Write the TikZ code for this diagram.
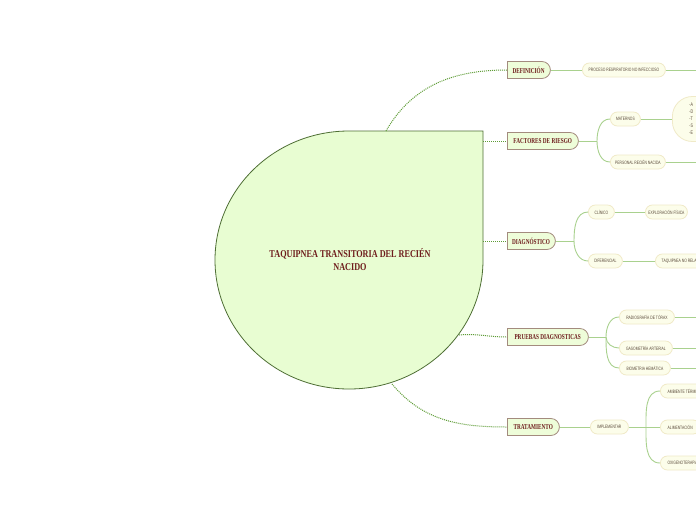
\documentclass[tikz,border=0pt]{standalone}
\usepackage{fontspec}
\newfontfamily\labfont[FakeStretch=0.7]{Liberation Serif}
\newfontfamily\ctrfont[FakeStretch=0.78]{Liberation Serif}
\newfontfamily\subfont[FakeStretch=0.7]{Liberation Sans}
\usetikzlibrary{shapes.misc}
\definecolor{ctrfill}{HTML}{E8FDD2}
\definecolor{ctrborder}{HTML}{4E6E34}
\definecolor{mainfill}{HTML}{EEFDD9}
\definecolor{mainborder}{HTML}{A38B7E}
\definecolor{subfill}{HTML}{FCFDEA}
\definecolor{subborder}{HTML}{F0EAC8}
\definecolor{labred}{HTML}{6E1C1C}
\definecolor{subtext}{HTML}{5A4A3A}
\definecolor{dotgreen}{HTML}{5E9C36}
\definecolor{linkgreen}{HTML}{A9D18E}
\tikzset{
  mainnode/.style={rounded rectangle, rounded rectangle west arc=none, draw=mainborder, fill=mainfill, line width=0.8, minimum height=17, inner xsep=4, font=\labfont\bfseries\fontsize{7.5}{9}\selectfont, text=labred, anchor=west},
  subnode/.style={rounded rectangle, draw=subborder, fill=subfill, line width=0.8, minimum height=14, inner xsep=4, inner ysep=1, font=\subfont\fontsize{4.8}{6}\selectfont, text=subtext, anchor=west},
  dotline/.style={draw=dotgreen, line width=1, dash pattern=on 1pt off 1pt},
  link/.style={draw=linkgreen, line width=0.9},
}
\begin{document}
\begin{tikzpicture}[x=1pt,y=-1pt]
\useasboundingbox (0,0) rectangle (696,520);
\clip (0,0) rectangle (696,520);
\fill[white] (0,0) rectangle (696,520);

% central shape
\draw[ctrborder, fill=ctrfill, line width=0.8] (483,131) -- (483,260) arc[start angle=0, end angle=270, x radius=134, y radius=129] -- cycle;
\node[font=\ctrfont\bfseries\fontsize{10.5}{13}\selectfont, text=labred, align=center] (ctr) at (350,260) {TAQUIPNEA TRANSITORIA DEL RECIÉN\\NACIDO};
\coordinate (c1) at (386,131);
\coordinate (c2) at (483,141);
\coordinate (c3) at (483,241);
\coordinate (c4) at (459,335);
\coordinate (c5) at (392,384);

% main nodes
\node[mainnode, minimum width=51] (def) at (507,70) {DEFINICIÓN};
\node[mainnode, minimum width=79] (fac) at (507,141) {FACTORES DE RIESGO};
\node[mainnode, minimum width=56] (dia) at (507,241) {DIAGNÓSTICO};
\node[mainnode, minimum width=89] (pru) at (507,337) {PRUEBAS DIAGNOSTICAS};
\node[mainnode, minimum width=60] (tra) at (507,427) {TRATAMIENTO};

\draw[dotline] (c1) to[out=-60+120,in=180] (def.west);
\draw[dotline] (c2) -- (fac.west);
\draw[dotline] (c3) -- (dia.west);
\draw[dotline] (c4) to[out=5,in=180] (pru.west);
\draw[dotline] (c5) to[out=-50,in=180] (tra.west);

% sub nodes
\node[subnode, minimum width=91] (pro) at (582,70) {PROCESO RESPIRATORIO NO INFECCIOSO};
\node[subnode, minimum width=38] (mat) at (610,119) {MATERNOS};
\node[rectangle, rounded corners=20, draw=subborder, fill=subfill, line width=0.8, anchor=west, minimum height=45, inner xsep=17, text width=60, align=left, font=\subfont\fontsize{5.2}{7}\selectfont, text=subtext] (mlist) at (672,119) {-A\\-D\\-T\\-S\\-E};
\node[subnode, minimum width=63] (per) at (610,162) {PERSONAL RECIÉN NACIDA};
\node[subnode, minimum width=34] (cli) at (588,212) {CLÍNICO};
\node[subnode, minimum width=50] (exp) at (645,212) {EXPLORACIÓN FÍSICA};
\node[subnode, minimum width=42] (dif) at (588,261) {DIFERENCIAL};
\node[subnode, inner xsep=6] (taq) at (655,261) {TAQUIPNEA NO RELACIONADA};
\node[subnode, minimum width=63] (rad) at (619,317) {RADIOGRAFÍA DE TÓRAX};
\node[subnode, minimum width=61] (gas) at (619,348) {GASOMETRÍA ARTERIAL};
\node[subnode, minimum width=59] (bio) at (619,368) {BIOMETRIA HEMÁTICA};
\node[subnode, minimum width=46] (imp) at (590,427) {IMPLEMENTAR};
\node[subnode, inner xsep=7] (amb) at (660,391) {AMBIENTE TÉRMICO};
\node[subnode, inner xsep=7] (ali) at (660,427) {ALIMENTACIÓN};
\node[subnode, inner xsep=7] (oxi) at (660,463) {OXIGENOTERAPIA};

% edge coordinates
\coordinate (e1) at (700,70);
\coordinate (e2) at (700,162);
\coordinate (e3) at (700,317);
\coordinate (e4) at (700,348);
\coordinate (e5) at (700,368);
\coordinate (jf) at (597,141);
\coordinate (jd) at (574,241);
\coordinate (jp) at (606,337);
\coordinate (ji) at (646,427);

% links
\draw[link] (def.east) -- (pro.west);
\draw[link] (pro.east) -- (e1);
\draw[link] (fac.east) -- (jf);
\draw[link] (jf) to[out=90,in=180] (mat.west);
\draw[link] (jf) to[out=-90,in=180] (per.west);
\draw[link] (mat.east) -- (mlist.west);
\draw[link] (per.east) -- (e2);
\draw[link] (dia.east) -- (jd);
\draw[link] (jd) to[out=90,in=180] (cli.west);
\draw[link] (jd) to[out=-90,in=180] (dif.west);
\draw[link] (cli.east) -- (exp.west);
\draw[link] (dif.east) -- (taq.west);
\draw[link] (pru.east) -- (jp);
\draw[link] (jp) to[out=90,in=180] (rad.west);
\draw[link] (jp) to[out=-90,in=180] (gas.west);
\draw[link] (jp) to[out=-90,in=180] (bio.west);
\draw[link] (rad.east) -- (e3);
\draw[link] (gas.east) -- (e4);
\draw[link] (bio.east) -- (e5);
\draw[link] (tra.east) -- (imp.west);
\draw[link] (imp.east) -- (ji);
\draw[link] (ji) to[out=90,in=180] (amb.west);
\draw[link] (ji) -- (ali.west);
\draw[link] (ji) to[out=-90,in=180] (oxi.west);
\end{tikzpicture}
\end{document}
